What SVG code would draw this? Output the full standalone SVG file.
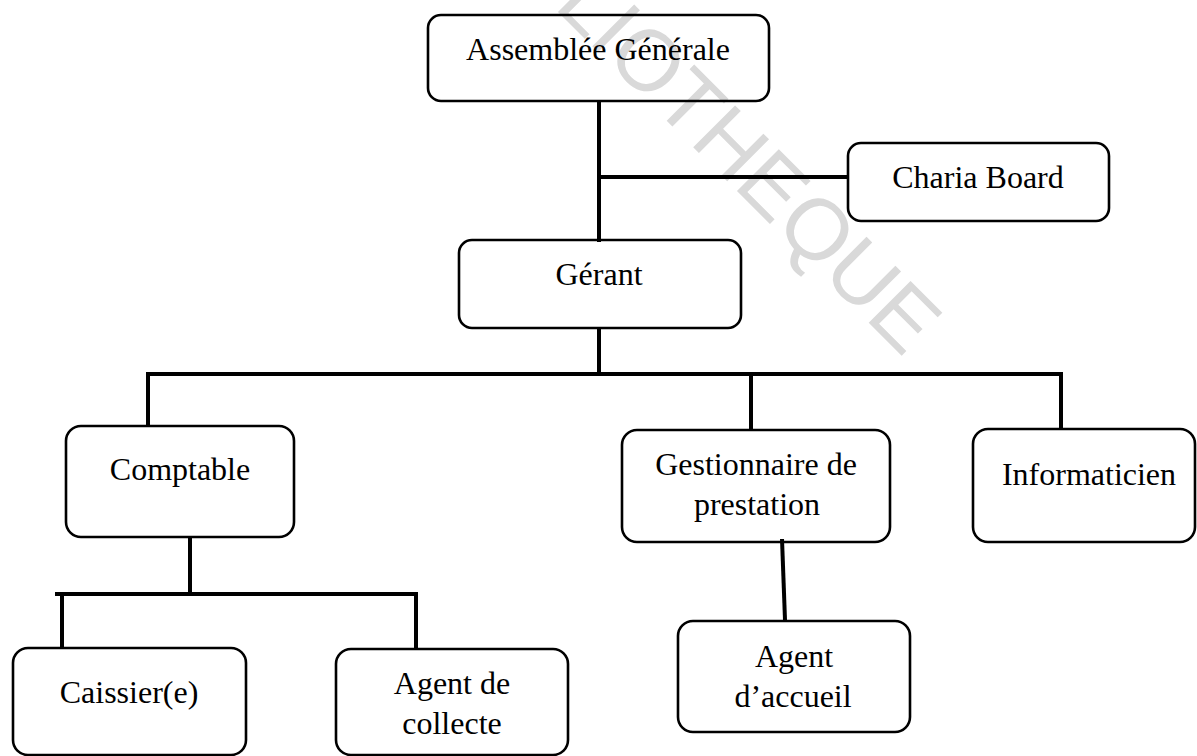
<svg xmlns="http://www.w3.org/2000/svg" width="1197" height="756" viewBox="0 0 1197 756">
<style>
.box{fill:none;stroke:#000;stroke-width:2.6}
.lbl{font-family:"Liberation Serif","Times New Roman",serif;font-size:32px;fill:#000;text-anchor:middle}
.con line{stroke:#000;stroke-width:4;stroke-linecap:square}
.wm{font-family:"Liberation Sans",Arial,sans-serif;font-size:86px;fill:#d9d9d9}
</style>
<rect width="1197" height="756" fill="#fff"/>
<text class="wm" transform="translate(553,7) rotate(45)">LIOTHEQUE</text>
<g id="connectors" class="con">
<line x1="599" y1="102" x2="599" y2="240"/>
<line x1="599" y1="177" x2="847" y2="177"/>
<line x1="599" y1="329" x2="599" y2="374"/>
<line x1="148" y1="374" x2="1061" y2="374"/>
<line x1="148" y1="374" x2="148" y2="425"/>
<line x1="751" y1="374" x2="751" y2="429"/>
<line x1="1061" y1="374" x2="1061" y2="428"/>
<line x1="190" y1="538" x2="190" y2="594"/>
<line x1="57" y1="594" x2="416" y2="594"/>
<line x1="62" y1="594" x2="62" y2="647"/>
<line x1="416" y1="594" x2="416" y2="648"/>
<line x1="782" y1="539" x2="785" y2="620" style="stroke-linecap:butt"/>
</g>
<g id="assemblee">
<rect class="box" x="428" y="15" width="341" height="86" rx="13"/>
<text class="lbl" x="598" y="60">Assemblée Générale</text>
</g>
<g id="charia">
<rect class="box" x="848" y="143" width="261" height="78" rx="13"/>
<text class="lbl" x="978" y="188">Charia Board</text>
</g>
<g id="gerant">
<rect class="box" x="459" y="240" width="282" height="88" rx="13"/>
<text class="lbl" x="599" y="285">Gérant</text>
</g>
<g id="comptable">
<rect class="box" x="66" y="426" width="228" height="111" rx="15"/>
<text class="lbl" x="180" y="480">Comptable</text>
</g>
<g id="gestionnaire">
<rect class="box" x="622" y="430" width="268" height="112" rx="15"/>
<text class="lbl" x="756" y="475">Gestionnaire de</text>
<text class="lbl" x="757" y="515">prestation</text>
</g>
<g id="informaticien">
<rect class="box" x="973" y="429" width="222" height="113" rx="15"/>
<text class="lbl" x="1089" y="485">Informaticien</text>
</g>
<g id="caissier">
<rect class="box" x="13" y="648" width="233" height="107" rx="15"/>
<text class="lbl" x="129" y="703">Caissier(e)</text>
</g>
<g id="agent-collecte">
<rect class="box" x="336" y="649" width="232" height="106" rx="15"/>
<text class="lbl" x="452" y="694">Agent de</text>
<text class="lbl" x="452" y="734">collecte</text>
</g>
<g id="agent-accueil">
<rect class="box" x="678" y="621" width="232" height="111" rx="15"/>
<text class="lbl" x="794" y="667">Agent</text>
<text class="lbl" x="793" y="707">d’accueil</text>
</g>
</svg>
